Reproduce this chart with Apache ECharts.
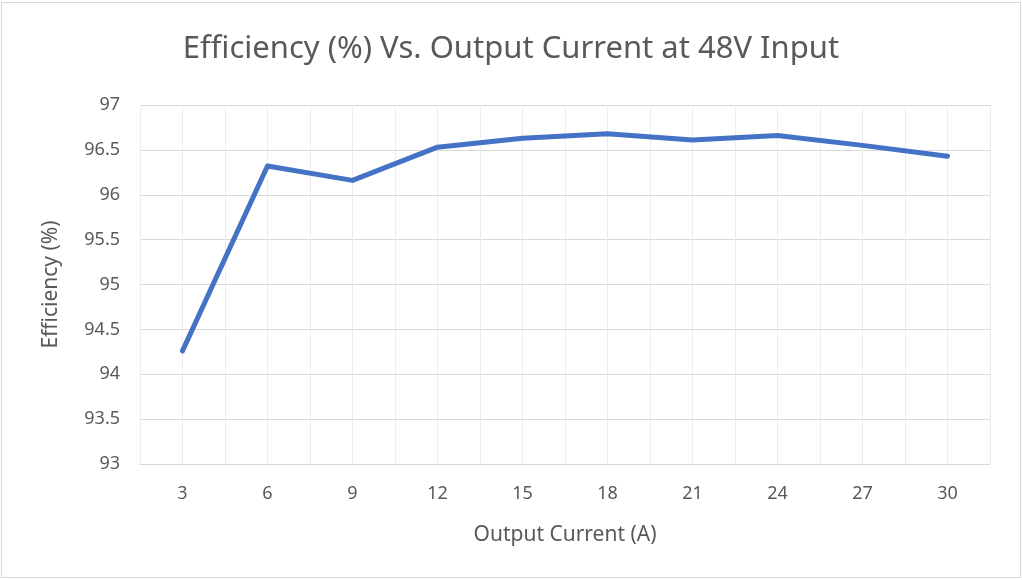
<!DOCTYPE html>
<html lang="en" style="height: 100%">
<head>
  <meta charset="utf-8">
  <script type="text/javascript" src="https://cdn.jsdelivr.net/npm/echarts@6/dist/echarts.min.js"></script>
</head>
<body style="height: 100%; margin: 0">
  <div id="container" style="position: absolute; left: 1px; top: 2px; width: 1018px; height: 574px; border: 1px solid #d9d9d9;"></div>
  <script type="text/javascript">
    // output current (A) and measured efficiency (%)
    var currents = [3, 6, 9, 12, 15, 18, 21, 24, 27, 30];
    var efficiency = [94.26, 96.32, 96.16, 96.53, 96.63, 96.68, 96.61, 96.66, 96.55, 96.43];
    var yTicks = [93, 93.5, 94, 94.5, 95, 95.5, 96, 96.5, 97];

    var dom = document.getElementById('container');
    var myChart = echarts.init(dom, null, { renderer: 'canvas' });
    var font = 'Noto Sans';

    var option = {
      animation: false,
      title: {
        text: 'Efficiency (%) Vs. Output Current at 48V Input',
        left: 'center',
        top: 26,
        textStyle: { fontFamily: font, fontSize: 31, fontWeight: 'normal', color: '#595959' }
      },
      grid: { left: 138, right: 30, top: 102, bottom: 113 },
      xAxis: {
        type: 'value',
        min: 1.5,
        max: 31.5,
        interval: 1.5,
        name: 'Output Current (A)',
        nameLocation: 'middle',
        nameGap: 61,
        nameTextStyle: { fontFamily: font, fontSize: 21, color: '#595959' },
        axisLine: { show: true, lineStyle: { color: '#d9d9d9', width: 1 } },
        axisTick: { show: false },
        axisLabel: {
          margin: 21,
          fontFamily: font, fontSize: 18, color: '#595959',
          formatter: function (v) {
            return currents.indexOf(v) >= 0 ? String(v) : '';
          }
        },
        splitLine: { show: true, lineStyle: { color: '#ececec', width: 1 } }
      },
      yAxis: {
        type: 'value',
        min: yTicks[0],
        max: yTicks[yTicks.length - 1],
        interval: 0.5,
        name: 'Efficiency (%)',
        nameLocation: 'middle',
        nameGap: 78,
        nameTextStyle: { fontFamily: font, fontSize: 21, color: '#595959' },
        axisLine: { show: false },
        axisTick: { show: false },
        axisLabel: { margin: 20, fontFamily: font, fontSize: 18, color: '#595959' },
        splitLine: { lineStyle: { color: '#d9d9d9', width: 1 } }
      },
      series: [{
        type: 'line',
        data: currents.map(function (c, i) { return [c, efficiency[i]]; }),
        showSymbol: false,
        lineStyle: { color: '#4472c4', width: 5, cap: 'round', join: 'round' },
        itemStyle: { color: '#4472c4' }
      }]
    };

    myChart.setOption(option);
  </script>
</body>
</html>
